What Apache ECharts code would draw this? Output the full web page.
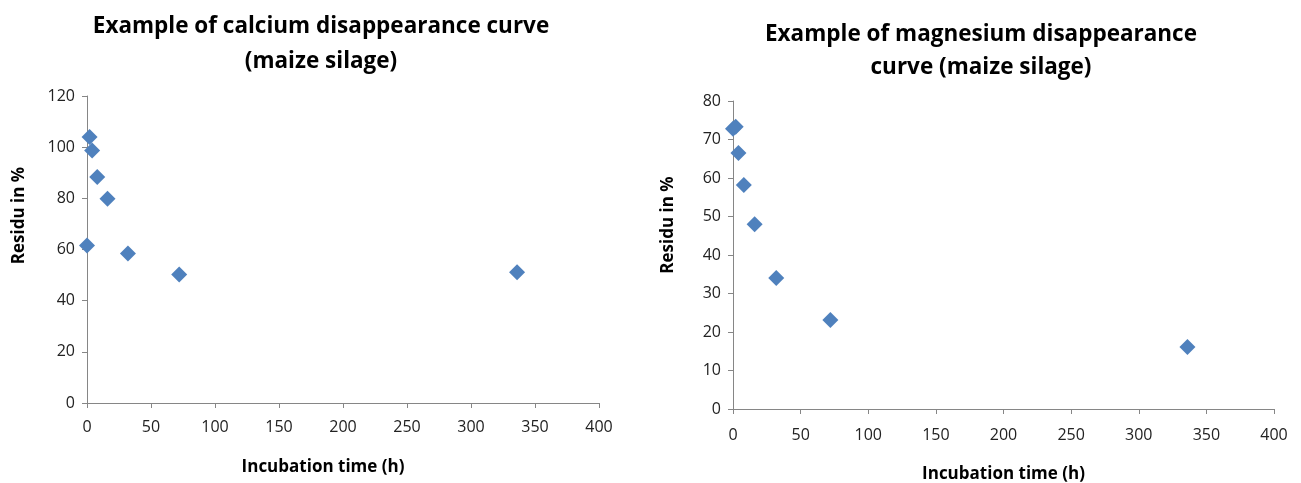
<!DOCTYPE html>
<html>
<head>
<meta charset="utf-8">
<script src="https://cdn.jsdelivr.net/npm/echarts@6/dist/echarts.min.js"></script>
<style>
html,body{margin:0;padding:0;background:#fff;}
#c{width:1301px;height:483px;}
</style>
</head>
<body>
<div id="c"></div>
<script>
// Data
const caTime = [0, 2, 4, 8, 16, 32, 72, 336];
const caResidu = [61.6, 104, 98.7, 88.3, 79.8, 58.4, 50.2, 51.1];
const mgTime = [0, 2, 4, 8, 16, 32, 72, 336];
const mgResidu = [72.8, 73.3, 66.5, 58.2, 48.0, 34.0, 23.1, 16.1];

const caTitle = 'Example of calcium disappearance curve\n(maize silage)';
const mgTitle = 'Example of magnesium disappearance\ncurve (maize silage)';
const xName = 'Incubation time (h)';
const yName = 'Residu in %';

const FONT = '"Open Sans", sans-serif';
const axisColor = '#868686';

function xAxis(gridIndex, gap, pad, margin) {
  return {
    type: 'value', gridIndex, min: 0, max: 400, interval: 50,
    name: xName, nameLocation: 'middle', nameGap: gap,
    nameTextStyle: {fontFamily: FONT, fontWeight: 'bold', fontSize: 17, color: '#000', padding: pad},
    axisLine: {show: true, onZero: false, lineStyle: {color: axisColor, width: 1}},
    axisTick: {show: true, inside: false, length: 5, lineStyle: {color: axisColor}},
    axisLabel: {fontFamily: FONT, fontSize: 16, color: '#222', margin},
    splitLine: {show: false}
  };
}
function yAxis(gridIndex, max, interval, gap, pad) {
  return {
    type: 'value', gridIndex, min: 0, max, interval,
    name: yName, nameLocation: 'middle', nameGap: gap, nameRotate: 90,
    nameTextStyle: {fontFamily: FONT, fontWeight: 'bold', fontSize: 17, color: '#000', padding: pad},
    axisLine: {show: true, lineStyle: {color: axisColor, width: 1}},
    axisTick: {show: true, inside: false, length: 5, lineStyle: {color: axisColor}},
    axisLabel: {fontFamily: FONT, fontSize: 16, color: '#222', margin: 12},
    splitLine: {show: false}
  };
}

const chart = echarts.init(document.getElementById('c'), null, {renderer: 'canvas'});
chart.setOption({
  backgroundColor: '#fff',
  animation: false,
  title: [
    {text: caTitle, left: 316, top: 4, textAlign: 'center',
     textStyle: {fontFamily: FONT, fontWeight: 'bold', fontSize: 22.5, color: '#000', lineHeight: 35}},
    {text: mgTitle, left: 976, top: 13, textAlign: 'center',
     textStyle: {fontFamily: FONT, fontWeight: 'bold', fontSize: 22.5, color: '#000', lineHeight: 33}}
  ],
  grid: [
    {left: 87, top: 96, width: 512, height: 307, outerBoundsMode: 'none', containLabel: false},
    {left: 733, top: 101, width: 541, height: 308, outerBoundsMode: 'none', containLabel: false}
  ],
  xAxis: [xAxis(0, 56, [0, 40, 0, 0], 16), xAxis(1, 57, 0, 18)],
  yAxis: [yAxis(0, 120, 20, 59, [0, 0, 0, 68]), yAxis(1, 80, 10, 56, [0, 0, 0, 60])],
  series: [
    {type: 'scatter', xAxisIndex: 0, yAxisIndex: 0, symbol: 'diamond', symbolSize: 16,
     itemStyle: {color: '#4F81BD', opacity: 1}, data: caTime.map((t, i) => [t, caResidu[i]])},
    {type: 'scatter', xAxisIndex: 1, yAxisIndex: 1, symbol: 'diamond', symbolSize: 16,
     itemStyle: {color: '#4F81BD', opacity: 1}, data: mgTime.map((t, i) => [t, mgResidu[i]])}
  ]
});
</script>
</body>
</html>
